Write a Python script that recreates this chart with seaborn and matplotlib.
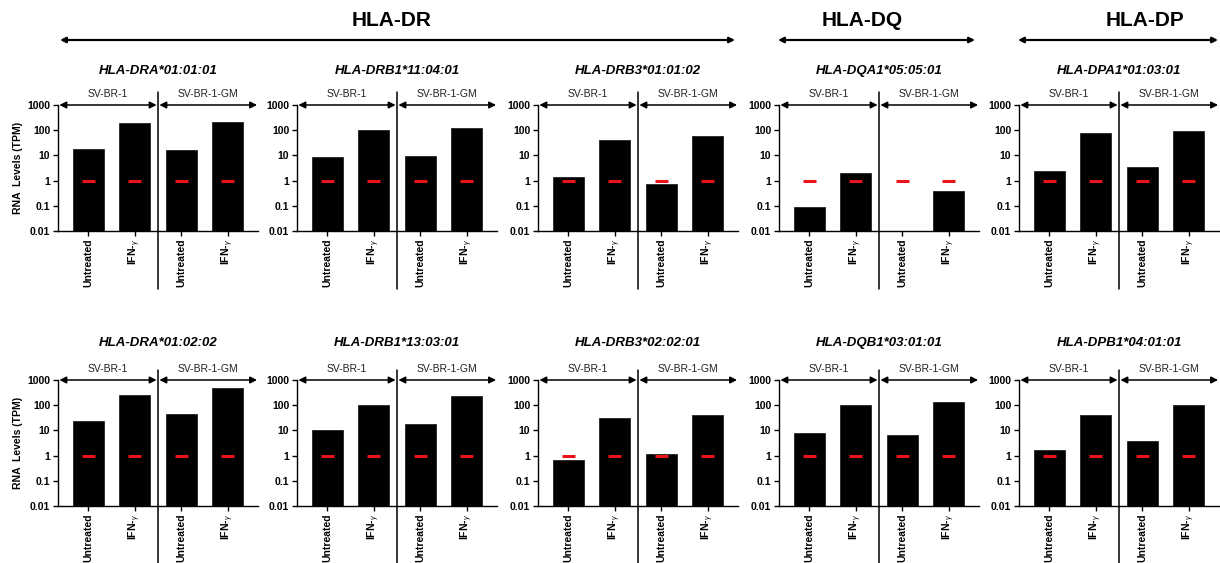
import numpy as np
import pandas as pd
import matplotlib
matplotlib.use("Agg")
import matplotlib.pyplot as plt
import matplotlib.transforms as mtransforms
import seaborn as sns

# ---------------- data ----------------
alleles = ["HLA-DRA*01:01:01", "HLA-DRB1*11:04:01", "HLA-DRB3*01:01:02",
           "HLA-DQA1*05:05:01", "HLA-DPA1*01:03:01",
           "HLA-DRA*01:02:02", "HLA-DRB1*13:03:01", "HLA-DRB3*02:02:01",
           "HLA-DQB1*03:01:01", "HLA-DPB1*04:01:01"]
sv_untreated = [18.5, 8.3, 1.36, 0.091, 2.3, 24, 10.3, 0.69, 7.6, 1.69]
sv_ifng      = [185, 106, 40, 2.03, 74, 258, 106, 32, 106, 42]
gm_untreated = [16.9, 9.7, 0.74, np.nan, 3.4, 46, 18, 1.2, 6.5, 3.86]
gm_ifng      = [215, 120, 59, 0.374, 94, 493, 222, 40, 140, 100]
threshold = 1.0  # red marks (TPM)

cell_lines = ["SV-BR-1", "SV-BR-1-GM"]
treatments = ["Untreated", "IFN-$_{\\gamma}$"]
yticks = [0.01, 0.1, 1, 10, 100, 1000]
ytick_labels = ["0.01", "0.1", "1", "10", "100", "1000"]

# ---------------- style ----------------
sns.set_style("ticks")
plt.rcParams["font.family"] = ["Liberation Sans", "DejaVu Sans"]
plt.rcParams["mathtext.fontset"] = "custom"
plt.rcParams["mathtext.it"] = "Liberation Sans:italic"
plt.rcParams["mathtext.rm"] = "Liberation Sans"
for k in ["text.color", "axes.labelcolor", "xtick.color", "ytick.color",
          "axes.edgecolor"]:
    plt.rcParams[k] = "black"

W, H = 1220, 563
fig = plt.figure(figsize=(W / 100, H / 100), dpi=100)

lefts = [58, 297, 538, 779, 1019]
ax_w = 200
row_tops = [105, 380]
ax_h = 126

order = [f"{c} {t}" for c in cell_lines for t in treatments]
xt_labels = [t for c in cell_lines for t in treatments]

for i, allele in enumerate(alleles):
    row, col = divmod(i, 5)
    x0 = lefts[col] / W
    y0 = 1 - (row_tops[row] + ax_h) / H
    ax = fig.add_axes([x0, y0, ax_w / W, ax_h / H])
    ax.set_yscale("log")
    df = pd.DataFrame({
        "cond": order,
        "tpm": [sv_untreated[i], sv_ifng[i], gm_untreated[i], gm_ifng[i]],
    })
    sns.barplot(data=df, x="cond", y="tpm", order=order, color="black",
                saturation=1, width=0.66, errorbar=None, ax=ax,
                edgecolor="#222222", linewidth=0.6)
    pos = np.arange(len(order))
    ax.hlines([threshold] * len(pos), pos - 0.14, pos + 0.14,
              color="#e8131b", lw=2.2, zorder=5)
    ax.set_ylim(0.01, 1000)
    ax.set_xlim(-0.65, 3.65)
    ax.set_yticks(yticks)
    ax.set_yticklabels(ytick_labels, fontsize=7.5, fontweight="bold")
    ax.minorticks_off()
    ax.set_xticks(pos)
    ax.set_xticklabels(xt_labels, rotation=90, fontsize=7.5, fontweight="bold")
    ax.tick_params(axis="both", length=3.5, width=1, pad=2, color="black",
                   labelcolor="black")
    ax.set_xlabel("")
    if col == 0:
        ax.set_ylabel("RNA  Levels (TPM)", fontsize=7.5, fontweight="bold", labelpad=3)
    else:
        ax.set_ylabel("")
    for s in ["top", "right"]:
        ax.spines[s].set_visible(False)
    for s in ["left", "bottom"]:
        ax.spines[s].set_linewidth(1.0)
        ax.spines[s].set_color("black")

    # divider
    trans = mtransforms.blended_transform_factory(ax.transData, ax.transAxes)
    ax.plot([1.5, 1.5], [-0.46, 1.10 if row == 0 else 1.08],
            color="black", lw=1.1, transform=trans, clip_on=False)
    # cell-line arrows and labels
    spans = [(-0.62, 1.47), (1.53, 3.63)]
    for (a, b), name in zip(spans, cell_lines):
        ax.annotate("", xy=(b, 1000), xytext=(a, 1000), xycoords="data",
                    arrowprops=dict(arrowstyle="<|-|>", color="black", lw=1.1,
                                    mutation_scale=10, shrinkA=0, shrinkB=0),
                    annotation_clip=False)
        ax.annotate(name, xy=((a + b) / 2, 1000), xytext=(0, 4),
                    textcoords="offset points", ha="center", va="bottom",
                    fontsize=7.5, color="#222222", annotation_clip=False)
    # title
    title_y = [71, 343][row]
    fig.text((lefts[col] + ax_w / 2) / W, 1 - title_y / H, allele,
             ha="center", va="center", fontsize=9.5, fontweight="bold",
             fontstyle="italic", color="black")

# group headers
header_info = {"HLA-DR": (60, 735, 392), "HLA-DQ": (778, 975, 862),
               "HLA-DP": (1018, 1218, 1145)}
for name, (xa, xb, xc) in header_info.items():
    fig.text(xc / W, 1 - 21 / H, name, ha="center", va="center",
             fontsize=15, fontweight="bold", color="black")
    fig.add_artist(matplotlib.patches.FancyArrowPatch(
        (xa / W, 1 - 40 / H), (xb / W, 1 - 40 / H), transform=fig.transFigure,
        arrowstyle="<|-|>", mutation_scale=8, color="black", lw=1.6,
        shrinkA=0, shrinkB=0))

fig.savefig("out.png", dpi=100, facecolor="white")
